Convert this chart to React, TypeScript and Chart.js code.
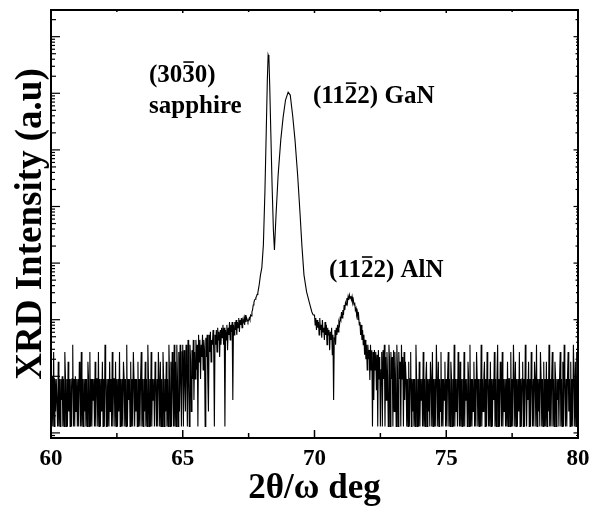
import React, { useEffect, useRef } from "react";
import { Chart, registerables } from "chart.js";
Chart.register(...registerables);

// 60.000 – 64.975, noise floor (step 0.025)
const floorLeftStart = 60.0;
const floorLeftStep = 0.025;
const floorLeft = [
  9, 1.3, 10, 1.3, 27, 1.3, 9, 2.4, 9, 9,
  1.3, 18, 1.3, 9, 1.3, 9, 3.8, 10, 1.3, 9,
  1.3, 27, 9, 1.3, 9, 1.3, 18, 2.4, 9, 1.3,
  9, 1.3, 9, 36, 1.3, 9, 1.3, 10, 2.4, 9,
  1.3, 9, 1.3, 18, 9, 1.3, 27, 1.3, 9, 1.3,
  9, 2.4, 9, 1.3, 9, 1.3, 18, 9, 1.3, 27,
  1.3, 9, 1.3, 9, 3.8, 9, 1.3, 18, 1.3, 9,
  9, 1.3, 27, 1.3, 9, 1.3, 9, 2.4, 18, 1.3,
  9, 1.3, 36, 9, 1.3, 9, 1.3, 9, 1.3, 18,
  2.4, 9, 1.3, 27, 1.3, 9, 9, 1.3, 18, 1.3,
  9, 1.3, 9, 2.4, 27, 1.3, 9, 1.3, 9, 1.3,
  18, 9, 1.3, 9, 1.3, 36, 1.3, 9, 3.8, 9,
  1.3, 18, 1.3, 9, 1.3, 27, 9, 1.3, 9, 2.4,
  9, 1.3, 18, 1.3, 9, 1.3, 9, 27, 1.3, 9,
  1.3, 9, 2.4, 18, 1.3, 9, 1.3, 36, 9, 1.3,
  9, 1.3, 27, 1.3, 9, 3.8, 9, 1.3, 18, 9,
  1.3, 9, 1.3, 27, 9, 1.3, 18, 1.3, 9, 1.3,
  27, 9, 1.3, 9, 2.4, 18, 1.3, 9, 1.3, 36,
  9, 1.3, 18, 1.3, 27, 9, 1.3, 36, 1.3, 18,
  1.3, 36, 9, 1.3, 27, 2.4, 36, 9, 1.3, 27,
];

// 65.000 – 67.875, rising background (step 0.025)
const riseStart = 65.0;
const riseStep = 0.025;
const rise = [
  36, 1.3, 29, 9, 2.4, 36, 13, 1.3, 44, 9,
  1.3, 36, 18, 2.4, 29, 9, 44, 3.8, 27, 9,
  44, 13, 36, 1.3, 54, 18, 44, 9, 36, 22,
  54, 13, 44, 29, 1.3, 48, 22, 54, 9, 2.4,
  54, 27, 61, 18, 44, 36, 66, 29, 1.3, 54,
  36, 66, 27, 72, 44, 61, 22, 66, 36, 72,
  48, 81, 36, 72, 1.3, 66, 44, 81, 29, 72,
  54, 91, 44, 81, 61, 91, 3.8, 81, 54, 91,
  66, 99, 54, 91, 72, 107, 61, 99, 81, 107,
  72, 99, 91, 107, 81, 121, 91, 107, 99, 91,
  99, 107, 99, 121, 117, 137, 150, 182, 200, 223,
  230, 245, 260, 280, 300, 350,
];

// sapphire (30-30) and GaN (11-22) peaks
const peakX = [
  67.9, 67.95, 68.0, 68.06, 68.12, 68.17, 68.21, 68.24, 68.27, 68.3, 68.34,
  68.39, 68.44, 68.48, 68.54, 68.62, 68.72, 68.81, 68.9, 69.0, 69.08, 69.17,
  69.26, 69.36, 69.45, 69.52, 69.6, 69.7, 69.8, 69.9, 69.95,
];
const peakY = [
  410, 620, 820, 2100, 19500, 225000, 1720000, 4750000, 4200000, 1400000,
  225000, 24000, 3850, 1700, 7100, 36000, 150000, 380000, 760000, 1050000,
  930000, 410000, 150000, 36000, 7700, 2100, 620, 310, 205, 137, 121,
];

// 70.000 – 72.500, shoulder and AlN (11-22) peak (step 0.025)
const midStart = 70.0;
const midStep = 0.025;
const mid = [
  121, 81, 107, 66, 99, 72, 91, 54, 107, 66,
  81, 48, 99, 61, 72, 44, 91, 54, 81, 36,
  72, 54, 66, 29, 61, 44, 72, 24, 54, 3.8,
  48, 66, 36, 72, 54, 81, 61, 91, 81, 107,
  99, 137, 107, 148, 121, 182, 148, 200, 182, 240,
  200, 255, 223, 273, 240, 260, 223, 255, 200, 223,
  182, 200, 148, 160, 121, 137, 99, 117, 81, 91,
  54, 81, 44, 66, 36, 54, 24, 44, 20, 36,
  13, 36, 20, 29, 8.6, 36, 13, 29, 1.3, 27,
  3.8, 29, 13, 27, 5.7, 24, 1.3, 29, 9, 22,
  1.3,
];

// 72.525 – 80.000, noise floor (step 0.025)
const floorRightStart = 72.525;
const floorRightStep = 0.025;
const floorRight = [
  13, 27, 1.3, 29, 9, 36, 1.3, 22, 3.8, 27,
  9, 1.3, 36, 18, 1.3, 27, 9, 22, 1.3, 29,
  2.4, 27, 9, 1.3, 36, 13, 1.3, 27, 9, 18,
  1.3, 36, 9, 22, 1.3, 27, 3.8, 18, 9, 1.3,
  9, 1.3, 18, 1.3, 9, 27, 1.3, 9, 2.4, 9,
  1.3, 9, 1.3, 36, 9, 1.3, 9, 1.3, 18, 1.3,
  9, 3.8, 9, 1.3, 27, 1.3, 9, 1.3, 9, 18,
  1.3, 9, 2.4, 9, 1.3, 18, 9, 1.3, 27, 1.3,
  9, 1.3, 9, 1.3, 36, 9, 1.3, 18, 1.3, 9,
  2.4, 27, 1.3, 9, 1.3, 9, 3.8, 18, 1.3, 9,
  1.3, 9, 27, 1.3, 9, 1.3, 18, 9, 1.3, 9,
  1.3, 36, 1.3, 9, 2.4, 9, 1.3, 27, 9, 1.3,
  18, 1.3, 9, 1.3, 9, 1.3, 27, 1.3, 9, 3.8,
  9, 1.3, 18, 9, 1.3, 36, 1.3, 9, 1.3, 9,
  2.4, 18, 1.3, 9, 1.3, 27, 9, 1.3, 9, 1.3,
  9, 1.3, 36, 1.3, 9, 2.4, 9, 18, 1.3, 9,
  1.3, 27, 9, 1.3, 9, 1.3, 18, 1.3, 9, 1.3,
  9, 3.8, 27, 1.3, 9, 1.3, 9, 36, 1.3, 9,
  1.3, 18, 9, 1.3, 27, 1.3, 9, 2.4, 9, 1.3,
  9, 1.3, 18, 1.3, 9, 9, 1.3, 27, 1.3, 9,
  1.3, 36, 9, 1.3, 18, 1.3, 9, 1.3, 9, 2.4,
  27, 1.3, 9, 1.3, 9, 18, 1.3, 9, 1.3, 36,
  9, 1.3, 9, 3.8, 18, 1.3, 9, 1.3, 27, 9,
  1.3, 9, 1.3, 18, 9, 1.3, 36, 1.3, 9, 2.4,
  9, 1.3, 27, 9, 1.3, 9, 1.3, 18, 1.3, 9,
  1.3, 18, 1.3, 9, 2.4, 36, 1.3, 9, 1.3, 9,
  27, 1.3, 9, 1.3, 18, 9, 1.3, 9, 3.8, 9,
  1.3, 9, 27, 1.3, 9, 1.3, 18, 1.3, 36, 9,
  1.3, 9, 1.3, 9, 27, 2.4, 9, 1.3, 18, 1.3,
  9, 1.3, 36, 9, 1.3, 18, 1.3, 27, 9, 27,
];

const xMin = 60;
const xMax = 80;
const xMajorTicks = [60, 65, 70, 75, 80];
const xMinorTicks = [62.5, 67.5, 72.5, 77.5];
const yMin = 0.813;
const yMax = 2.96e7;

const labelTexts = ["(3030)", "sapphire", "(1122) GaN", "(1122) AlN"];
const labelBarIndex = [3, -1, 3, 3];
const labelX = [63.72, 63.72, 69.94, 70.55];
const labelY = [1.58e6, 4.5e5, 6.7e5, 568];

const FONT = "'Liberation Serif', 'Times New Roman', serif";

function buildData() {
  const pts: { x: number; y: number }[] = [];
  const addRun = (start: number, step: number, vals: number[]) => {
    vals.forEach((v, i) => pts.push({ x: +(start + i * step).toFixed(4), y: v }));
  };
  addRun(floorLeftStart, floorLeftStep, floorLeft);
  addRun(riseStart, riseStep, rise);
  peakX.forEach((x, i) => pts.push({ x, y: peakY[i] }));
  addRun(midStart, midStep, mid);
  addRun(floorRightStart, floorRightStep, floorRight);
  return pts;
}

const overlay = {
  id: "overlay",
  afterDraw(chart: any) {
    const { ctx, chartArea: a, scales } = chart;
    const xs = scales.x;
    const ys = scales.y;
    ctx.save();
    ctx.strokeStyle = "#000";
    ctx.lineWidth = 2;
    ctx.strokeRect(a.left, a.top, a.right - a.left, a.bottom - a.top);

    ctx.lineWidth = 1.5;
    const line = (x1: number, y1: number, x2: number, y2: number) => {
      ctx.beginPath();
      ctx.moveTo(x1, y1);
      ctx.lineTo(x2, y2);
      ctx.stroke();
    };
    xMajorTicks.forEach((v) => {
      const px = xs.getPixelForValue(v);
      line(px, a.bottom, px, a.bottom - 8);
      line(px, a.top, px, a.top + 3);
    });
    xMinorTicks.forEach((v) => {
      const px = xs.getPixelForValue(v);
      line(px, a.bottom, px, a.bottom - 5);
      line(px, a.top, px, a.top + 2);
    });
    ctx.lineWidth = 1.2;
    const e0 = Math.floor(Math.log10(yMin));
    const e1 = Math.ceil(Math.log10(yMax));
    for (let e = e0; e <= e1; e++) {
      for (let m = 1; m <= 9; m++) {
        const v = m * Math.pow(10, e);
        if (v < yMin || v > yMax) continue;
        const py = ys.getPixelForValue(v);
        const len = m === 1 ? 9 : m === 2 || m === 5 ? 5 : 4;
        line(a.left, py, a.left + len, py);
        line(a.right, py, a.right - len * 0.5, py);
      }
    }

    ctx.fillStyle = "#000";
    ctx.font = `bold 25px ${FONT}`;
    ctx.textBaseline = "alphabetic";
    ctx.textAlign = "left";
    labelTexts.forEach((t, i) => {
      const px = xs.getPixelForValue(labelX[i]);
      const py = ys.getPixelForValue(labelY[i]);
      ctx.fillText(t, px, py);
      const bi = labelBarIndex[i];
      if (bi >= 0) {
        const x0 = px + ctx.measureText(t.slice(0, bi)).width;
        const w = ctx.measureText(t[bi]).width;
        ctx.lineWidth = 1.6;
        line(x0 + 1, py - 20, x0 + w - 1, py - 20);
      }
    });
    ctx.restore();
  },
};

export default function App() {
  const ref = useRef<HTMLCanvasElement | null>(null);
  useEffect(() => {
    if (!ref.current) return;
    const chart = new Chart(ref.current, {
      type: "line",
      data: {
        datasets: [
          {
            data: buildData(),
            borderColor: "#000",
            borderWidth: 1.1,
            pointRadius: 0,
            tension: 0,
            fill: false,
          },
        ],
      },
      options: {
        animation: false,
        responsive: false,
        devicePixelRatio: 1,
        layout: { padding: { top: 10, right: 0, left: 0, bottom: 0 } },
        plugins: { legend: { display: false }, tooltip: { enabled: false } },
        scales: {
          x: {
            type: "linear",
            min: xMin,
            max: xMax,
            afterFit: (s: any) => {
              s.height = 68;
              s.paddingLeft = 0;
              s.paddingRight = 13;
            },
            afterBuildTicks: (s: any) => {
              s.ticks = xMajorTicks.map((v) => ({ value: v }));
            },
            grid: { display: false, drawTicks: false },
            border: { display: false },
            ticks: {
              color: "#000",
              padding: 10,
              maxRotation: 0,
              font: { family: FONT, weight: "bold", size: 23, lineHeight: 1 },
            },
            title: {
              display: true,
              text: "2θ/ω deg",
              color: "#000",
              padding: 0,
              font: { family: FONT, weight: "bold", size: 35, lineHeight: 1 },
            },
          },
          y: {
            type: "logarithmic",
            min: yMin,
            max: yMax,
            afterFit: (s: any) => {
              s.width = 51;
              s.paddingTop = 0;
              s.paddingBottom = 0;
            },
            grid: { display: false, drawTicks: false },
            border: { display: false },
            ticks: { display: false },
            title: {
              display: true,
              text: "XRD Intensity (a.u)",
              color: "#000",
              padding: { top: 13, bottom: 0 },
              font: { family: FONT, weight: "bold", size: 37, lineHeight: 1 },
            },
          },
        },
      },
      plugins: [overlay],
    });
    return () => chart.destroy();
  }, []);
  return (
    <div style={{ position: "fixed", left: 0, top: 0, width: 591, height: 506, background: "#fff" }}>
      <canvas ref={ref} width={591} height={506} />
    </div>
  );
}
